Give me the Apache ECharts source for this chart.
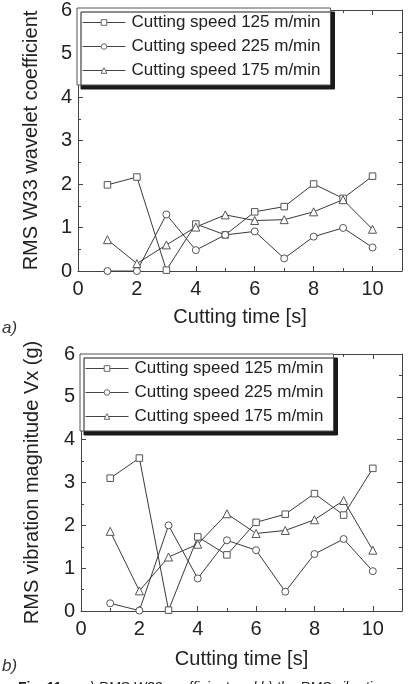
<!DOCTYPE html>
<html>
<head>
<meta charset="utf-8">
<script src="https://cdn.jsdelivr.net/npm/echarts@6/dist/echarts.min.js"></script>
<style>
html,body{margin:0;padding:0;background:#fff;}
#chart{width:408px;height:684px;}
</style>
</head>
<body>
<div id="chart"></div>
<script>
// ---- data ----
const timeS = [1, 2, 3, 4, 5, 6, 7, 8, 9, 10];
const seriesNames = ['Cutting speed 125 m/min', 'Cutting speed 225 m/min', 'Cutting speed 175 m/min'];
// panel a) RMS W33 wavelet coefficient
const w33Speed125 = [1.98, 2.16, 0.02, 1.08, 0.83, 1.36, 1.48, 2.00, 1.67, 2.18];
const w33Speed225 = [0.00, 0.00, 1.30, 0.48, 0.83, 0.91, 0.29, 0.79, 0.99, 0.54];
const w33Speed175 = [0.72, 0.17, 0.60, 1.01, 1.29, 1.16, 1.18, 1.36, 1.64, 0.96];
// panel b) RMS vibration magnitude Vx (g)
const vxSpeed125 = [3.10, 3.57, 0.02, 1.73, 1.31, 2.07, 2.26, 2.74, 2.24, 3.33];
const vxSpeed225 = [0.18, 0.01, 2.00, 0.76, 1.65, 1.42, 0.45, 1.33, 1.68, 0.93];
const vxSpeed175 = [1.86, 0.47, 1.26, 1.56, 2.27, 1.81, 1.88, 2.13, 2.58, 1.42];
const xTickLabels = ['0', '2', '4', '6', '8', '10'];
const yTickLabels = ['0', '1', '2', '3', '4', '5', '6'];

const FONT = '"Liberation Sans", Arial, Helvetica, sans-serif';
const AX = '#444';
const TXT = '#222';
const symbols = ['rect', 'circle', 'triangle'];
const symSizes = [6.5, 7, 8];

function xAxisPair(gi, nameGap) {
  const base = {
    gridIndex: gi, type: 'value', min: 0, max: 11, interval: 2,
    axisLine: {show: true, onZero: false, lineStyle: {color: AX, width: 1}},
    axisTick: {show: true, inside: true, length: 5, lineStyle: {color: AX}},
    minorTick: {show: true, splitNumber: 2, length: 3, lineStyle: {color: AX}},
    splitLine: {show: false}, minorSplitLine: {show: false}
  };
  return [
    Object.assign({}, base, {
      position: 'bottom',
      name: 'Cutting time [s]', nameLocation: 'middle', nameGap: nameGap,
      nameTextStyle: {fontFamily: FONT, fontSize: 20, color: TXT},
      axisLabel: {show: true, margin: 8, fontFamily: FONT, fontSize: 20, color: TXT,
        formatter: v => (xTickLabels.indexOf(String(v)) >= 0 ? String(v) : '')}
    }),
    Object.assign({}, base, {position: 'top', axisLabel: {show: false}})
  ];
}
function yAxisPair(gi, name, nameGap) {
  const base = {
    gridIndex: gi, type: 'value', min: 0, max: 6, interval: 1,
    axisLine: {show: true, onZero: false, lineStyle: {color: AX, width: 1}},
    axisTick: {show: true, inside: true, length: 5, lineStyle: {color: AX}},
    minorTick: {show: true, splitNumber: 2, length: 3, lineStyle: {color: AX}},
    splitLine: {show: false}, minorSplitLine: {show: false}
  };
  return [
    Object.assign({}, base, {
      position: 'left',
      name: name, nameLocation: 'middle', nameGap: nameGap, nameRotate: 90,
      nameTextStyle: {fontFamily: FONT, fontSize: 20, color: TXT},
      axisLabel: {show: true, margin: 6, fontFamily: FONT, fontSize: 20, color: TXT,
        formatter: v => (yTickLabels.indexOf(String(v)) >= 0 ? String(v) : '')}
    }),
    Object.assign({}, base, {position: 'right', axisLabel: {show: false}})
  ];
}
function makeSeries(values, idx, xi, yi) {
  return {
    type: 'line', name: seriesNames[idx],
    xAxisIndex: xi, yAxisIndex: yi,
    data: timeS.map((t, i) => [t, values[i]]),
    symbol: symbols[idx], symbolSize: symSizes[idx],
    showAllSymbol: true,
    lineStyle: {color: '#3a3a3a', width: 1},
    itemStyle: {color: '#fff', borderColor: '#555', borderWidth: 1},
    emphasis: {disabled: true},
    animation: false, z: 3
  };
}
function makeLegend(left, top) {
  return {
    left: left, top: top, orient: 'vertical',
    data: seriesNames,
    itemWidth: 43, itemHeight: 7, itemGap: 7,
    padding: [6, 10, 6, 5],
    backgroundColor: '#fff', borderColor: '#555', borderWidth: 1,
    shadowColor: '#1a1a1a', shadowBlur: 0, shadowOffsetX: 4, shadowOffsetY: 4,
    itemStyle: {color: '#fff', borderColor: '#666', borderWidth: 1},
    lineStyle: {color: '#444', width: 1},
    textStyle: {fontFamily: FONT, fontSize: 17, color: TXT, padding: [0, 0, 0, 1]},
    selectedMode: false, z: 10
  };
}

const chart = echarts.init(document.getElementById('chart'), null, {renderer: 'canvas'});
const xa = xAxisPair(0, 36), xb = xAxisPair(1, 38);
const ya = yAxisPair(0, 'RMS W33 wavelet coefficient', 37);
const yb = yAxisPair(1, 'RMS vibration magnitude Vx (g)', 39);
chart.setOption({
  animation: false,
  backgroundColor: '#fff',
  grid: [
    {left: 78, top: 8, width: 324, height: 263, containLabel: false},
    {left: 81, top: 354, width: 321, height: 257, containLabel: false}
  ],
  xAxis: [xa[0], xa[1], xb[0], xb[1]],
  yAxis: [ya[0], ya[1], yb[0], yb[1]],
  legend: [makeLegend(77, 8), makeLegend(80, 354)],
  series: [
    makeSeries(w33Speed125, 0, 0, 0),
    makeSeries(w33Speed225, 1, 0, 0),
    makeSeries(w33Speed175, 2, 0, 0),
    makeSeries(vxSpeed125, 0, 2, 2),
    makeSeries(vxSpeed225, 1, 2, 2),
    makeSeries(vxSpeed175, 2, 2, 2)
  ],
  graphic: [
    {type: 'text', left: 2, top: 320, style: {text: 'a)', font: 'italic 17px ' + FONT, fill: '#333'}},
    {type: 'text', left: 2, top: 658, style: {text: 'b)', font: 'italic 17px ' + FONT, fill: '#333'}},
    {type: 'text', left: 18, top: 681, style: {text: 'Fig. 11.', font: 'bold 14px ' + FONT, fill: '#222'}},
    {type: 'text', left: 82, top: 681, style: {text: 'a) RMS W33 coefficient and b) the RMS vibration', font: 'italic 14px ' + FONT, fill: '#222'}}
  ]
});
</script>
</body>
</html>
